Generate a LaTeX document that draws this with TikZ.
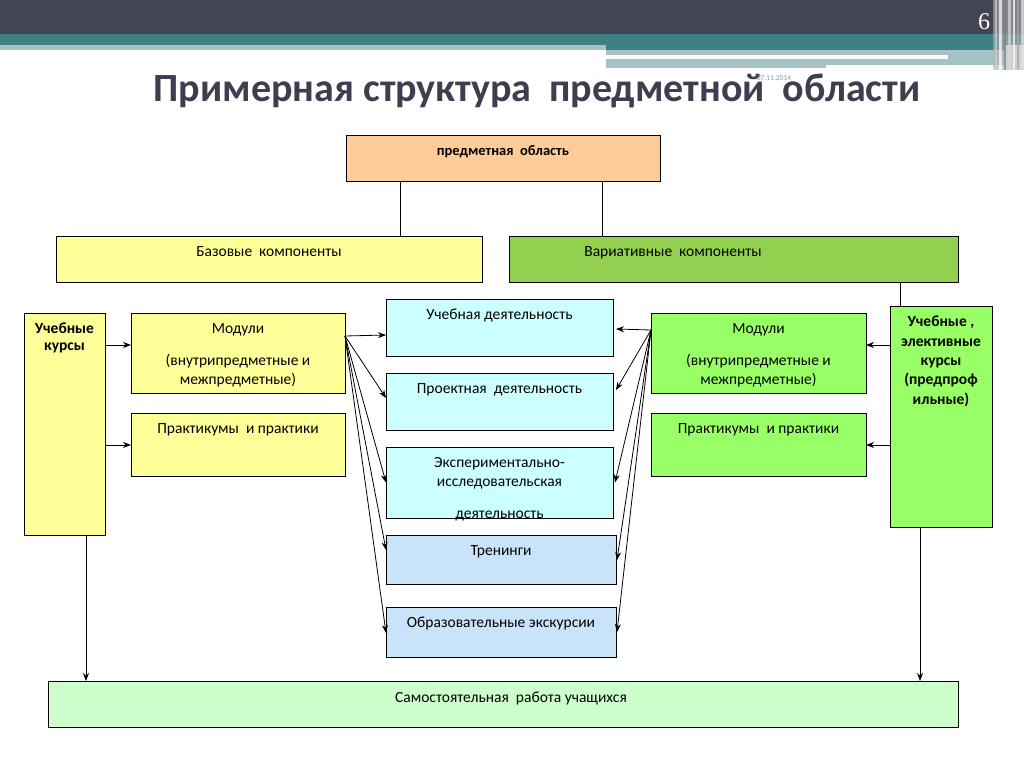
\documentclass[tikz,border=0pt]{standalone}
\usepackage{fontspec}
\setmainfont{Carlito}
\newfontfamily\numfont{Liberation Serif}
\usetikzlibrary{arrows.meta,shadows}
\definecolor{darkbar}{HTML}{434456}
\definecolor{tealbar}{HTML}{3F8084}
\definecolor{lightband}{HTML}{A5C3C4}
\definecolor{titlecol}{HTML}{3E3E50}
\definecolor{datecol}{HTML}{7FA3A6}
\definecolor{peach}{HTML}{FFCC99}
\definecolor{paleyellow}{HTML}{FFFF99}
\definecolor{midgreen}{HTML}{92D050}
\definecolor{brightgreen}{HTML}{99FF66}
\definecolor{palecyan}{HTML}{CCFFFF}
\definecolor{paleblue}{HTML}{C9E4FA}
\definecolor{palegreen}{HTML}{CCFFCC}
\tikzset{
  bx/.style={draw=black, line width=0.8pt, outer sep=0pt, inner sep=0pt, anchor=north west,
    drop shadow={shadow xshift=1.2pt, shadow yshift=-1.2pt, opacity=0.35, fill=gray}},
  tx/.style={font=\fontsize{15.5}{19}\selectfont, align=center, inner sep=0pt, anchor=north},
  btx/.style={font=\bfseries\fontsize{15.5}{19.3}\selectfont, align=center, inner sep=0pt, anchor=north},
  arr/.style={-{Stealth[length=8pt,width=6pt]}, line width=0.8pt},
  ln/.style={line width=0.8pt},
}
\begin{document}
\begin{tikzpicture}[x=1pt,y=-1pt]
\useasboundingbox (0,0) rectangle (1024,768);
\fill[white] (0,0) rectangle (1024,768);
% banner
\fill[darkbar] (0,0) rectangle (1024,34);
\fill[tealbar] (0,34) rectangle (1024,45);
\fill[tealbar] (606,45) rectangle (1005,50);
\fill[lightband] (0,45) rectangle (606,50);
\fill[lightband] (606,50) rectangle (1005,65);
\fill[lightband] (606,65) rectangle (826,68);
\fill[white] (606,55) rectangle (948,59);
\fill[gray!60, opacity=0.6] (993,0) rectangle (1024,70);
\foreach \xx/\ww/\cc in {995/2/gray!40, 999/3/white, 1004/2/gray, 1008/3/gray!30, 1013/2/white, 1017/2/gray!70, 1021/3/gray!20}
  \fill[\cc, opacity=0.7] (\xx,0) rectangle ({\xx+\ww},70);
\node[font=\numfont\fontsize{24}{24}\selectfont, text=white, inner sep=0pt] (pnum) at (984,22) {6};
% title
\node[font=\bfseries\fontsize{40}{44}\selectfont, text=titlecol, inner sep=0pt] (title) at (537,91) {Примерная структура\ \ предметной\ \ области};
\node[font=\fontsize{7.5}{8}\selectfont, text=datecol, inner sep=0pt] (date) at (774,78) {07.11.2014};
% boxes
\node[bx, fill=peach, minimum width=314pt, minimum height=46pt] (pa) at (346,135) {};
\node[bx, fill=paleyellow, minimum width=426pt, minimum height=46pt] (bk) at (56,236) {};
\node[bx, fill=midgreen, minimum width=449pt, minimum height=46pt] (vk) at (509,236) {};
\node[bx, fill=paleyellow, minimum width=81pt, minimum height=222pt] (lk) at (24,313) {};
\node[bx, fill=paleyellow, minimum width=214pt, minimum height=80pt] (lm) at (131,313) {};
\node[bx, fill=paleyellow, minimum width=214pt, minimum height=63pt] (lp) at (131,413) {};
\node[bx, fill=palecyan, minimum width=227pt, minimum height=57pt] (ud) at (386,299) {};
\node[bx, fill=palecyan, minimum width=227pt, minimum height=57pt] (pd) at (386,373) {};
\node[bx, fill=palecyan, minimum width=227pt, minimum height=71pt] (ed) at (386,447) {};
\node[bx, fill=paleblue, minimum width=230pt, minimum height=49pt] (tr) at (386,535) {};
\node[bx, fill=paleblue, minimum width=230pt, minimum height=50pt] (ex) at (386,607) {};
\node[bx, fill=brightgreen, minimum width=215pt, minimum height=80pt] (rm) at (651,313) {};
\node[bx, fill=brightgreen, minimum width=215pt, minimum height=63pt] (rp) at (651,413) {};
\node[bx, fill=brightgreen, minimum width=102pt, minimum height=221pt] (rk) at (890,306) {};
\node[bx, fill=palegreen, minimum width=910pt, minimum height=46pt] (sr) at (48,681) {};
% texts
\node[btx, font=\bfseries\fontsize{14.5}{18}\selectfont] (paT) at ([yshift=-10pt]pa.north) {предметная\ \ область};
\node[tx] (bkT) at ([yshift=-10pt]bk.north) {Базовые\ \ компоненты};
\node[tx] (vkT) at (673,246) {Вариативные\ \ компоненты};
\node[btx, font=\bfseries\fontsize{15.5}{17}\selectfont] (lkT) at ([yshift=-10pt]lk.north) {Учебные\\курсы};
\node[tx] (lmT) at ([yshift=-10pt]lm.north) {Модули\\[13pt](внутрипредметные и\\межпредметные)};
\node[tx] (lpT) at ([yshift=-10pt]lp.north) {Практикумы\ \ и практики};
\node[tx] (udT) at ([yshift=-10pt]ud.north) {Учебная деятельность};
\node[tx] (pdT) at ([yshift=-10pt]pd.north) {Проектная\ \ деятельность};
\node[tx] (edT) at ([yshift=-10pt]ed.north) {Экспериментально-\\исследовательская\\[13pt]деятельность};
\node[tx] (trT) at ([yshift=-10pt]tr.north) {Тренинги};
\node[tx] (exT) at ([yshift=-10pt]ex.north) {Образовательные экскурсии};
\node[tx] (rmT) at ([yshift=-10pt]rm.north) {Модули\\[13pt](внутрипредметные и\\межпредметные)};
\node[tx] (rpT) at ([yshift=-10pt]rp.north) {Практикумы\ \ и практики};
\node[btx] (rkT) at ([yshift=-10pt]rk.north) {Учебные ,\\элективные\\курсы\\(предпроф\\ильные)};
\node[tx] (srT) at ([xshift=8pt,yshift=-11pt]sr.north) {Самостоятельная\ \ работа учащихся};
% plain lines
\draw[ln] ([xshift=-103pt]pa.south) -- ([xshift=131pt]bk.north);
\draw[ln] ([xshift=99pt]pa.south) -- ([xshift=-131.5pt]vk.north);
\draw[ln] ([xshift=166.5pt]vk.south) -- ([xshift=-41pt]rk.north);
% side arrows
\draw[arr] ([yshift=-32pt]lk.north east) -- ([yshift=-32pt]lm.north west);
\draw[arr] ([yshift=-32pt]lp.north west -| lk.east) -- ([yshift=-32pt]lp.north west);
\draw[arr] ([yshift=-39pt]rk.north west) -- ([yshift=-32pt]rm.north east);
\draw[arr] ([yshift=-32pt]rp.north east -| rk.west) -- ([yshift=-32pt]rp.north east);
% fans
\coordinate (lsrc) at ([yshift=-23pt]lm.north east);
\coordinate (rsrc) at ([yshift=-17pt]rm.north west);
\draw[arr] (lsrc) -- ([yshift=-7.5pt]ud.west);
\draw[arr] (lsrc) -- ([yshift=3.5pt]pd.west);
\draw[arr] (lsrc) -- (ed.west);
\draw[arr] (lsrc) -- ([yshift=9.5pt]tr.west);
\draw[arr] (lsrc) -- ([yshift=-1pt]ex.west);
\draw[arr] (rsrc) -- ([xshift=3pt,yshift=-1.5pt]ud.east);
\draw[arr] (rsrc) -- ([xshift=3pt,yshift=11.5pt]pd.east);
\draw[arr] (rsrc) -- ([xshift=2pt]ed.east);
\draw[arr] (rsrc) -- ([xshift=1pt,yshift=-0.5pt]tr.east);
\draw[arr] (rsrc) -- ([xshift=1pt]ex.east);
% down arrows
\draw[arr] ([xshift=21.5pt]lk.south) -- ([xshift=-417pt]sr.north);
\draw[arr] ([xshift=-21pt]rk.south) -- ([xshift=417pt]sr.north);
\end{tikzpicture}
\end{document}
